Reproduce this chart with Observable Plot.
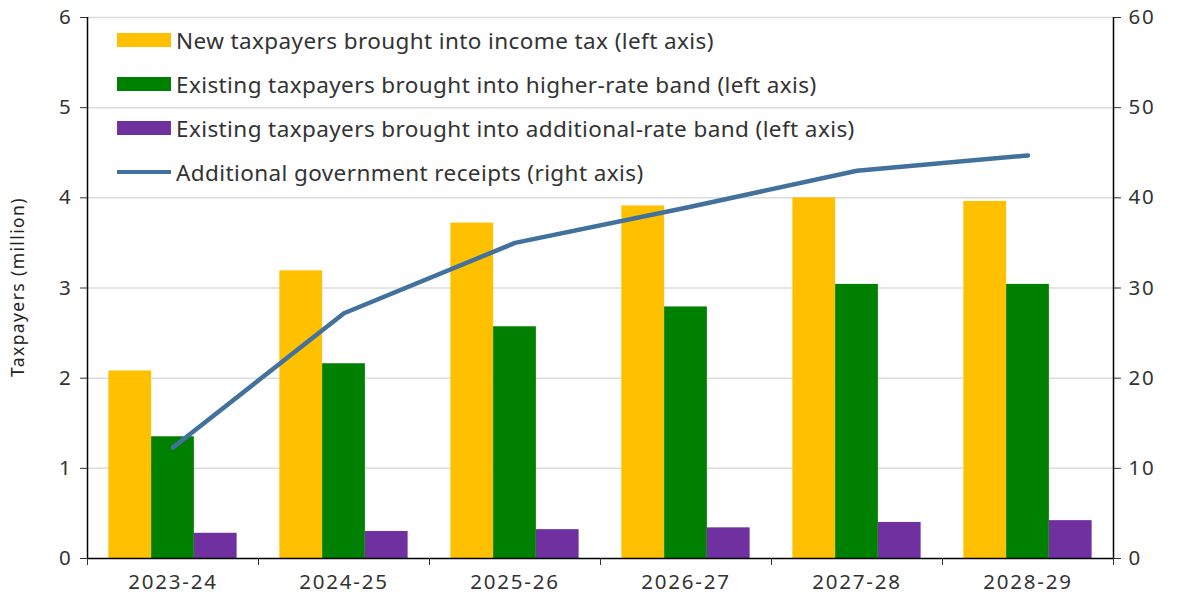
<!DOCTYPE html>
<html>
<head>
<meta charset="utf-8">
<script src="https://cdn.jsdelivr.net/npm/d3@7"></script>
<script src="https://cdn.jsdelivr.net/npm/@observablehq/plot@0.6"></script>
<style>
  html, body { margin: 0; padding: 0; background: #fff; }
  #wrap { position: relative; width: 1185px; height: 613px; font-family: "Noto Sans", sans-serif; }
  #legend { position: absolute; left: 117px; top: 18px; color: #333; font-size: 22.5px; letter-spacing: 0.4px; }
  .row { display: flex; align-items: center; height: 44px; white-space: nowrap; }
  .sw { width: 54px; height: 14px; margin-right: 5px; flex: none; }
  .ln { width: 54px; height: 4px; margin-right: 5px; flex: none; }
  svg text { letter-spacing: 1.8px; }
  #ylabel { position: absolute; left: 17px; top: 287px; transform: translate(-50%, -50%) rotate(-90deg);
            white-space: nowrap; font-size: 17.5px; letter-spacing: 1.4px; color: #222; }
</style>
</head>
<body>
<div id="wrap"></div>
<script>
const years = ["2023-24", "2024-25", "2025-26", "2026-27", "2027-28", "2028-29"];
const newTaxpayers = [2.08, 3.19, 3.72, 3.91, 4.00, 3.96];
const higherRate = [1.35, 2.16, 2.57, 2.79, 3.04, 3.04];
const additionalRate = [0.28, 0.30, 0.32, 0.34, 0.40, 0.42];
const receipts = [12.3, 27.2, 35.0, 38.9, 43.0, 44.7];
const leftTicks = [0, 1, 2, 3, 4, 5, 6];
const yLabel = "Taxpayers (million)";
const seriesNames = [
  "New taxpayers brought into income tax (left axis)",
  "Existing taxpayers brought into higher-rate band (left axis)",
  "Existing taxpayers brought into additional-rate band (left axis)",
  "Additional government receipts (right axis)"
];
const colors = ["#FFC000", "#008000", "#7030A0", "#41719C"];

const barWidth = 0.25;
const bars = [];
[newTaxpayers, higherRate, additionalRate].forEach((arr, s) => {
  arr.forEach((v, i) => {
    const off = (s - 1) * barWidth;
    bars.push({i, s, v, x1: i + off - barWidth / 2, x2: i + off + barWidth / 2});
  });
});
const linePts = receipts.map((r, i) => ({i, y: r / 10}));

const chart = Plot.plot({
  width: 1185,
  height: 613,
  marginLeft: 87,
  marginRight: 72,
  marginTop: 17,
  marginBottom: 55,
  style: {fontFamily: "Noto Sans, sans-serif", fontSize: "20.5px", color: "#333", background: "#fff"},
  x: {domain: [-0.5, years.length - 0.5]},
  y: {domain: [0, 6]},
  marks: [
    Plot.gridY(leftTicks.slice(1), {stroke: "#dcdcdc", strokeOpacity: 1, strokeWidth: 1.5}),
    Plot.rectY(bars, {x1: "x1", x2: "x2", y1: 0, y2: "v", fill: d => colors[d.s], insetLeft: 0, insetRight: 0}),
    Plot.line(linePts, {x: "i", y: "y", stroke: colors[3], strokeWidth: 4.5}),
    Plot.ruleY([0], {stroke: "#000", strokeWidth: 1.5}),
    Plot.ruleX([-0.5], {stroke: "#000", strokeWidth: 1.5}),
    Plot.ruleX([years.length - 0.5], {stroke: "#000", strokeWidth: 1.5}),
    Plot.axisY({ticks: leftTicks, tickSize: 7, tickPadding: 8, tickFormat: d => d, label: null}),
    Plot.axisY({anchor: "right", ticks: leftTicks, tickSize: 7, tickPadding: 8, tickFormat: d => d * 10, label: null}),
    Plot.axisX({ticks: d3.range(-0.5, years.length, 1), tickSize: 7, tickFormat: () => "", label: null}),
    Plot.axisX({ticks: d3.range(years.length), tickSize: 0, tickPadding: 16, tickFormat: i => years[i], label: null})
  ]
});
const wrap = document.getElementById("wrap");
wrap.appendChild(chart);

const yl = document.createElement("div");
yl.id = "ylabel";
yl.textContent = yLabel;
wrap.appendChild(yl);

const legend = document.createElement("div");
legend.id = "legend";
seriesNames.forEach((name, k) => {
  const row = document.createElement("div");
  row.className = "row";
  const sw = document.createElement("div");
  sw.className = k < 3 ? "sw" : "ln";
  sw.style.background = colors[k];
  const t = document.createElement("span");
  t.textContent = name;
  row.appendChild(sw);
  row.appendChild(t);
  legend.appendChild(row);
});
wrap.appendChild(legend);
</script>
</body>
</html>
